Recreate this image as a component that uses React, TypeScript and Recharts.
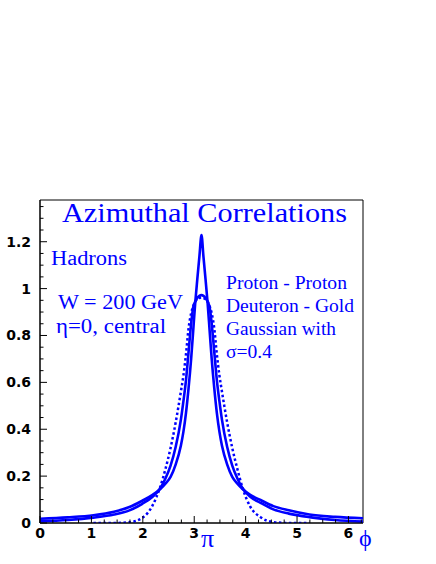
import { LineChart, Line, XAxis, YAxis, ReferenceArea } from 'recharts'

const PHI = [
  0, 0.54, 1.04, 1.44, 1.74, 1.99, 2.19, 2.34, 2.44, 2.54, 2.64, 2.74, 2.79, 2.84, 2.89, 2.94, 2.98, 3.02, 3.06, 3.1,
  3.1416,
  3.18, 3.22, 3.26, 3.3, 3.34, 3.39, 3.44, 3.49, 3.54, 3.64, 3.74, 3.84, 3.94, 4.09, 4.29, 4.54, 4.84, 5.24, 5.74, 6.2832,
]

// Proton - Proton (narrow cusp, heavy tails)
const PP = [
  0.018, 0.024, 0.033, 0.048, 0.068, 0.095, 0.12, 0.145, 0.168, 0.197, 0.25, 0.33, 0.39, 0.47, 0.575, 0.7, 0.82, 0.94, 1.04, 1.135,
  1.228,
  1.135, 1.04, 0.94, 0.82, 0.7, 0.575, 0.47, 0.39, 0.33, 0.25, 0.197, 0.168, 0.145, 0.12, 0.098, 0.072, 0.054, 0.036, 0.026, 0.02,
]

// Deuteron - Gold (rounder, broader top)
const DAU = [
  0.007, 0.013, 0.023, 0.036, 0.054, 0.082, 0.112, 0.148, 0.19, 0.245, 0.325, 0.44, 0.52, 0.61, 0.73, 0.85, 0.92, 0.945, 0.96, 0.969,
  0.972,
  0.969, 0.96, 0.945, 0.92, 0.85, 0.73, 0.61, 0.52, 0.44, 0.325, 0.245, 0.19, 0.148, 0.112, 0.086, 0.058, 0.04, 0.025, 0.013, 0.006,
]

// Gaussian with sigma = 0.4 (dotted), drawn only over the middle range
const GAUSS_PHI = [
  1.04, 1.44, 1.74, 1.99, 2.19, 2.34, 2.44, 2.54, 2.64, 2.74, 2.79, 2.84, 2.89, 2.94, 2.98, 3.02, 3.06, 3.1,
  3.1416,
  3.18, 3.22, 3.26, 3.3, 3.34, 3.39, 3.44, 3.49, 3.54, 3.64, 3.74, 3.84, 3.94, 4.09, 4.29, 4.54, 4.84, 5.24,
]
const GAUSS = [
  0, 0, 0.003, 0.022, 0.075, 0.155, 0.23, 0.32, 0.43, 0.56, 0.63, 0.72, 0.83, 0.895, 0.925, 0.945, 0.955, 0.96,
  0.962,
  0.96, 0.955, 0.945, 0.925, 0.895, 0.83, 0.72, 0.63, 0.56, 0.43, 0.32, 0.23, 0.15, 0.07, 0.025, 0.004, 0, 0,
]

const X_LABELS = [0, 1, 2, 3, 4, 5, 6]
const Y_LABELS = [0, 0.2, 0.4, 0.6, 0.8, 1, 1.2]
const X_MAX = 6.2832
const Y_MAX = 1.378

const xTicks = Array.from({ length: 26 }, (_, i) => i * 0.25)
const yTicks = Array.from({ length: 28 }, (_, i) => Math.round(i * 5) / 100)

const ppData = PHI.map((x, i) => ({ x, y: PP[i] }))
const dauData = PHI.map((x, i) => ({ x, y: DAU[i] }))
const gaussData = GAUSS_PHI.map((x, i) => ({ x, y: GAUSS[i] }))

const BLUE = '#0000ff'
const SERIF = 'Liberation Serif, DejaVu Serif, serif'
const TICK_FONT = 'DejaVu Sans, sans-serif'

const isMajor = (v: number, step: number) => Math.abs(v / step - Math.round(v / step)) < 1e-6

function XTick(props: any) {
  const { x, y, payload } = props
  const v = payload.value as number
  const major = isMajor(v, 1)
  return (
    <g>
      <line x1={x} x2={x} y1={y} y2={y - (major ? 7 : 3.5)} stroke="#000" strokeWidth={1} />
      {major && X_LABELS.includes(Math.round(v)) && (
        <text x={x} y={y + 15} textAnchor="middle" fontFamily={TICK_FONT} fontWeight="bold" fontSize={14} fill="#000">
          {Math.round(v)}
        </text>
      )}
    </g>
  )
}

function YTick(props: any) {
  const { x, y, payload } = props
  const v = payload.value as number
  const major = isMajor(v, 0.2)
  const label = Y_LABELS.find((l) => Math.abs(l - v) < 1e-6)
  return (
    <g>
      <line x1={x} x2={x + (major ? 7 : 3.5)} y1={y} y2={y} stroke="#000" strokeWidth={1} />
      {label !== undefined && (
        <text x={x - 9} y={y + 5} textAnchor="end" fontFamily={TICK_FONT} fontWeight="bold" fontSize={14} fill="#000">
          {String(label)}
        </text>
      )}
    </g>
  )
}

function Txt({ x, y, size, len, children }: { x: number; y: number; size: number; len?: number; children: string }) {
  return (
    <text
      x={x}
      y={y}
      fill={BLUE}
      fontFamily={SERIF}
      fontSize={size}
      textLength={len}
      lengthAdjust={len ? 'spacingAndGlyphs' : undefined}
    >
      {children}
    </text>
  )
}

export default function App() {
  return (
    <div style={{ position: 'absolute', left: 0, top: 0, width: 436, height: 564, background: '#fff', fontFamily: SERIF }}>
      <LineChart width={436} height={564} margin={{ top: 200, right: 73, bottom: 0, left: 0 }}>
        <XAxis
          dataKey="x"
          type="number"
          domain={[0, X_MAX]}
          ticks={xTicks}
          interval={0}
          height={41}
          tickSize={0}
          tickMargin={0}
          tick={<XTick />}
          axisLine={{ stroke: '#000' }}
          allowDataOverflow
        />
        <YAxis
          type="number"
          domain={[0, Y_MAX]}
          ticks={yTicks}
          interval={0}
          width={40}
          tickSize={0}
          tickMargin={0}
          tick={<YTick />}
          axisLine={{ stroke: '#000' }}
          allowDataOverflow
        />
        <ReferenceArea x1={0} x2={X_MAX} y1={0} y2={Y_MAX} fill="none" stroke="#000" strokeWidth={1} />
        <Line
          data={gaussData}
          dataKey="y"
          type="monotone"
          dot={false}
          stroke={BLUE}
          strokeWidth={2.5}
          strokeDasharray="2.5 2.5"
          isAnimationActive={false}
        />
        <Line data={dauData} dataKey="y" type="monotone" dot={false} stroke={BLUE} strokeWidth={2.6} isAnimationActive={false} />
        <Line data={ppData} dataKey="y" type="monotone" dot={false} stroke={BLUE} strokeWidth={2.6} isAnimationActive={false} />
      </LineChart>
      <svg width={436} height={564} style={{ position: 'absolute', left: 0, top: 0, pointerEvents: 'none' }}>
        <Txt x={62} y={222} size={28} len={285}>Azimuthal Correlations</Txt>
        <Txt x={51} y={265} size={20} len={76}>Hadrons</Txt>
        <Txt x={58} y={309} size={20} len={125}>W = 200 GeV</Txt>
        <Txt x={56} y={333} size={20} len={110}>η=0, central</Txt>
        <Txt x={226} y={289} size={19} len={121}>Proton - Proton</Txt>
        <Txt x={226} y={312} size={19} len={128}>Deuteron - Gold</Txt>
        <Txt x={226} y={335} size={19} len={110}>Gaussian with</Txt>
        <Txt x={226} y={358} size={19} len={46}>σ=0.4</Txt>
        <Txt x={201} y={547} size={26}>π</Txt>
        <Txt x={359} y={546} size={24}>ϕ</Txt>
      </svg>
    </div>
  )
}
